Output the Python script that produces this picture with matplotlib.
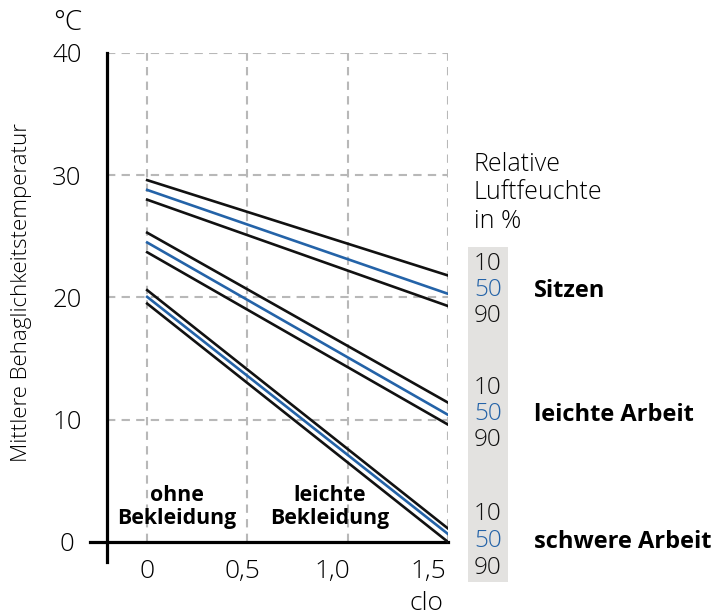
import matplotlib
matplotlib.use("Agg")
import matplotlib.pyplot as plt
from matplotlib.patches import Rectangle
from matplotlib.transforms import ScaledTranslation

plt.rcParams['font.family'] = ['Open Sans', 'DejaVu Sans']

W, H = 716, 614

# Daten (clo -> mittlere Behaglichkeitstemperatur in °C)
clo = [0, 1.5]
sitzen_10 = [29.6, 21.8]
sitzen_50 = [28.8, 20.3]
sitzen_90 = [28.0, 19.3]
leicht_10 = [25.3, 11.4]
leicht_50 = [24.5, 10.4]
leicht_90 = [23.7, 9.6]
schwer_10 = [20.6, 1.1]
schwer_50 = [20.05, 0.65]
schwer_90 = [19.5, 0.0]

x_ticks = [0, 0.5, 1.0, 1.5]
x_labels = ['0', '0,5', '1,0', '1,5']
y_ticks = [0, 10, 20, 30, 40]
feuchte = ['10', '50', '90']
aktivitaet = ['Sitzen', 'leichte Arbeit', 'schwere Arbeit']

BLACK = '#111111'
BLUE = '#2463a8'
GRID = '#b8b8b8'


def px(x, y):
    return x / W, 1 - y / H


fig = plt.figure(figsize=(W / 100, H / 100), dpi=100)
ax = fig.add_axes([90 / W, 1 - 562 / H, 358 / W, 509 / H])
ax.set_xlim(-0.285, 1.5)
ax.set_ylim(-1.64, 40)

# Gitter
for yv in y_ticks[1:]:
    ax.plot([-0.2, 1.5], [yv, yv], color=GRID, lw=1.5, ls=(0, (4, 3)), zorder=1)
for xv in x_ticks:
    ax.plot([xv, xv], [0, 40], color=GRID, lw=1.5, ls=(0, (4, 3)), zorder=1)

groups = [
    (sitzen_10, sitzen_50, sitzen_90),
    (leicht_10, leicht_50, leicht_90),
    (schwer_10, schwer_50, schwer_90),
]
for g in groups:
    ax.plot(clo, g[0], color=BLACK, lw=1.9, zorder=3)
    ax.plot(clo, g[1], color=BLUE, lw=1.9, zorder=3)
    ax.plot(clo, g[2], color=BLACK, lw=1.9, zorder=3)

for s in ['top', 'right']:
    ax.spines[s].set_visible(False)
ax.spines['left'].set_position(('data', -0.2))
ax.spines['bottom'].set_position(('data', 0))
ax.spines['left'].set_linewidth(2.3)
ax.spines['bottom'].set_linewidth(2.3)
ax.tick_params(length=0)
ax.set_xticks(x_ticks)
ax.set_xticklabels(x_labels, fontsize=19, fontweight='light', va='center')
ax.set_yticks(y_ticks)
ax.set_yticklabels([str(v) for v in y_ticks], fontsize=18.5, fontweight='light', ha='center')
ax.tick_params(axis='x', pad=21)
ax.tick_params(axis='y', pad=29)
# die x-Beschriftungen sitzen im Original etwas links der Ticks
for lab, dx in zip(ax.get_xticklabels(), [0, -5.5, -15, -20]):
    lab.set_transform(lab.get_transform() + ScaledTranslation(dx / 100, 0, fig.dpi_scale_trans))

fig.text(*px(68, 23), '°C', fontsize=20, fontweight='light', ha='center', va='center')
fig.text(*px(426, 603), 'clo', fontsize=19, fontweight='light', ha='center', va='center')
fig.text(*px(22, 292), 'Mittlere Behaglichkeitstemperatur', fontsize=16,
         fontweight='light', rotation=90, ha='center', va='center')

fig.text(*px(177, 507), 'ohne\nBekleidung', fontsize=15.3, fontweight='bold',
         ha='center', va='center', linespacing=1.1)
fig.text(*px(330, 507), 'leichte\nBekleidung', fontsize=15.3, fontweight='bold',
         ha='center', va='center', linespacing=1.1)

fig.text(*px(474, 193), 'Relative\nLuftfeuchte\nin %', fontsize=18, fontweight='light',
         ha='left', va='center', linespacing=1.2)

fig.patches.append(Rectangle(px(468, 582), 40 / W, 335 / H, transform=fig.transFigure,
                             facecolor='#e3e2e0', edgecolor='none', zorder=0))

centers = [290, 414, 541]
for c, name in zip(centers, aktivitaet):
    for k, (lab, col) in enumerate(zip(feuchte, [BLACK, BLUE, BLACK])):
        fig.text(*px(474, c + (k - 1) * 26.5), lab, fontsize=17.5, fontweight='light',
                 color=col, ha='left', va='center')
    fig.text(*px(534, c + 1), name, fontsize=17, fontweight='bold', ha='left', va='center')

fig.savefig('out.png', dpi=100)
